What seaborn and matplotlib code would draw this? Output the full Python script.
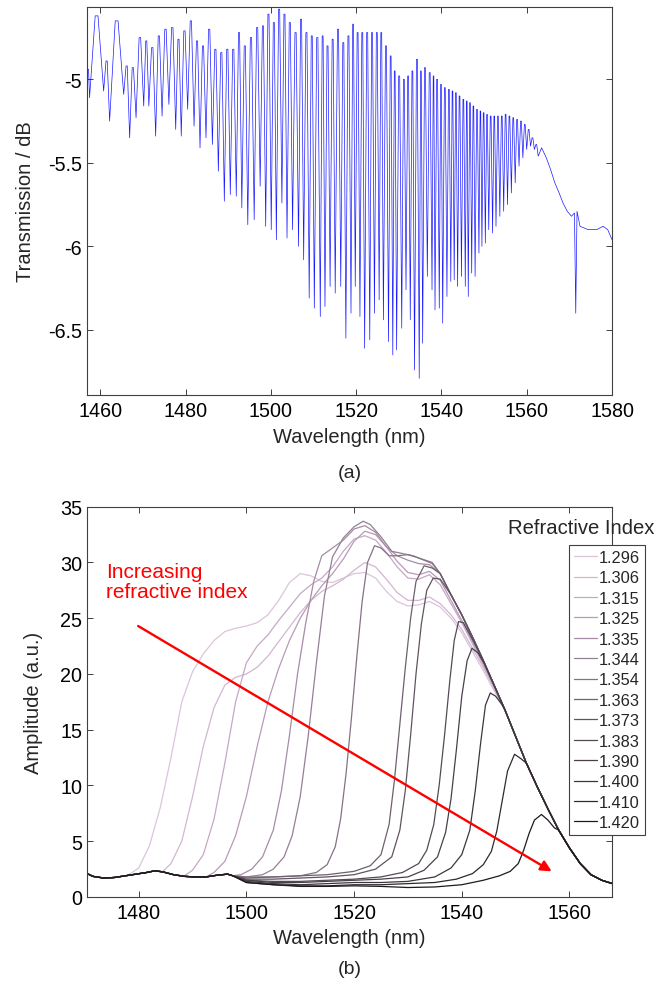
import numpy as np
import pandas as pd
import matplotlib
matplotlib.use("Agg")
import matplotlib.pyplot as plt
import seaborn as sns

# ---------- (a) transmission spectrum, read fringe by fringe ----------
start_nm, start_db = 1456.9, -4.94

dip_nm = [1457.5, 1460.8, 1462.2, 1465.5, 1466.9, 1468.4, 1470.2, 1471.4, 1473.0, 1474.5, 1476.1, 1477.7,
          1479.0, 1480.5, 1482.0, 1483.4, 1484.8, 1486.3, 1487.7, 1489.1, 1490.5, 1491.9, 1493.2, 1494.6,
          1496.1, 1497.5, 1498.8, 1500.1, 1501.3,
          1502.6, 1503.8, 1505.1, 1506.5, 1507.7, 1509.0, 1510.2, 1511.6, 1512.7, 1513.9, 1515.1, 1516.4,
          1517.6, 1518.8, 1519.8, 1520.9, 1522.0, 1523.2, 1524.3, 1525.4, 1526.4,
          1527.6, 1528.6, 1529.5, 1530.7, 1531.7, 1532.7, 1533.7, 1534.8, 1535.6, 1536.7, 1537.8, 1538.5,
          1539.5, 1540.3, 1541.3, 1542.2, 1543.0, 1543.8, 1544.7, 1545.6, 1546.3, 1547.1, 1547.9, 1548.8,
          1549.5, 1550.3, 1551.1,
          1552.0, 1552.8, 1553.7, 1554.6, 1555.5, 1556.4, 1557.3, 1558.2, 1559.1, 1560.0, 1560.9, 1561.8, 1562.7]
dip_db = [-5.11, -5.07, -5.25, -5.09, -5.35, -5.23, -5.16, -5.16, -5.34, -5.22, -5.15, -5.30,
          -5.34, -5.18, -5.28, -5.41, -5.35, -5.39, -5.55, -5.73, -5.69, -5.70, -5.77, -5.87,
          -5.84, -5.64, -5.88, -5.90, -5.96,
          -5.74, -5.95, -5.90, -6.00, -6.08, -6.31, -6.37, -6.42, -6.36, -6.24, -6.28, -6.24,
          -6.55, -6.40, -6.24, -6.42, -6.61, -6.56, -6.40, -6.32, -6.44,
          -6.57, -6.65, -6.62, -6.49, -6.26, -6.44, -6.74, -6.79, -6.58, -6.18, -6.26, -6.38,
          -6.37, -6.46, -6.30, -6.21, -6.20, -6.24, -6.18, -6.24, -6.30, -6.16, -6.18, -6.04,
          -6.00, -5.98, -5.90,
          -5.92, -5.88, -5.82, -5.79, -5.75, -5.68, -5.62, -5.52, -5.47, -5.42, -5.40, -5.42, -5.46]
# local maximum just before each dip
top_db = [-4.94, -4.62, -4.89, -4.65, -4.92, -4.93, -4.75, -4.77, -4.81, -4.74, -4.70, -4.69,
          -4.76, -4.71, -4.65, -4.77, -4.80, -4.70, -4.82, -4.84, -4.82, -4.82, -4.72, -4.80,
          -4.75, -4.69, -4.68, -4.61, -4.66,
          -4.58, -4.61, -4.66, -4.72, -4.64, -4.72, -4.74, -4.75, -4.74, -4.80, -4.76, -4.70,
          -4.78, -4.74, -4.67, -4.72, -4.72, -4.72, -4.72, -4.72, -4.72,
          -4.80, -4.86, -4.95, -4.98, -5.00, -4.98, -4.95, -4.88, -4.95, -4.93, -4.96, -4.98,
          -5.00, -5.03, -5.05, -5.06, -5.07, -5.08, -5.10, -5.12, -5.13, -5.14, -5.16, -5.18,
          -5.19, -5.20, -5.21,
          -5.22, -5.22, -5.22, -5.22, -5.21, -5.22, -5.23, -5.24, -5.25, -5.27, -5.30, -5.35, -5.39]
tail_nm = [1563.5, 1564.6, 1565.6, 1566.6, 1567.6, 1568.5, 1569.5, 1570.5, 1571.2, 1571.5, 1571.8,
           1572.5, 1574.4, 1576.4, 1577.9, 1579.0, 1580.0]
tail_db = [-5.41, -5.47, -5.54, -5.62, -5.68, -5.74, -5.79, -5.82, -5.80, -6.40, -5.79,
           -5.88, -5.90, -5.90, -5.88, -5.90, -5.96]

top_xticks = [1460, 1480, 1500, 1520, 1540, 1560, 1580]
top_yticks = [-6.5, -6, -5.5, -5]
top_yticklabels = ["-6.5", "-6", "-5.5", "-5"]

# ---------- (b) amplitude spectra for different refractive indices ----------
ri_labels = ["1.296", "1.306", "1.315", "1.325", "1.335", "1.344", "1.354",
             "1.363", "1.373", "1.383", "1.390", "1.400", "1.410", "1.420"]

# shared low-level part on the left, shared falling edge on the right
base_nm = [1470.0, 1471.5, 1473.5, 1475.5, 1477.5, 1479.5, 1481.5, 1483.0, 1484.5, 1486.5,
           1488.5, 1490.5, 1492.5, 1494.5, 1496.5]
base_amp = [2.2, 1.85, 1.7, 1.75, 1.9, 2.05, 2.2, 2.35, 2.25, 2.0, 1.85, 1.8, 1.8, 1.95, 2.05]
env_nm = [1536, 1538, 1540, 1542, 1544, 1546, 1548, 1550, 1552, 1554, 1556, 1558, 1560, 1562,
          1564, 1566, 1568]
env_amp = [29.0, 27.1, 25.3, 23.3, 21.2, 19.0, 16.8, 14.4, 12.0, 9.9, 7.9, 6.0, 4.4, 3.0,
           2.0, 1.5, 1.2]

nm_1296 = [1478.5, 1480, 1482, 1484, 1486, 1488, 1490, 1492, 1494, 1496, 1498, 1500, 1502, 1504,
           1506, 1508, 1510, 1512, 1514, 1516, 1518, 1520, 1522, 1524, 1526, 1528, 1530, 1532,
           1534, 1536, 1538, 1540, 1542, 1544, 1546]
amp_1296 = [2.1, 2.6, 4.6, 8.0, 12.5, 17.5, 20.2, 21.8, 23.0, 23.8, 24.1, 24.3, 24.6, 25.3,
            26.6, 28.2, 29.0, 28.8, 28.3, 28.2, 28.6, 29.0, 29.1, 28.6, 27.4, 26.5, 26.1, 26.2,
            26.5, 26.0, 25.0, 23.7, 22.0, 20.3, 18.5]
nm_1306 = [1484.5, 1486, 1488, 1490, 1492, 1494, 1496, 1498, 1500, 1502, 1504, 1506, 1508, 1510,
           1512, 1514, 1516, 1518, 1520, 1522, 1524, 1526, 1528, 1530, 1532, 1534, 1536, 1538,
           1540, 1542, 1544, 1546]
amp_1306 = [2.3, 3.0, 5.0, 9.0, 13.5, 17.0, 19.0, 19.7, 20.0, 20.6, 21.6, 22.9, 24.2, 25.5,
            26.6, 27.4, 27.9, 28.5, 29.3, 30.0, 29.6, 28.5, 27.3, 26.6, 26.6, 26.9, 26.3, 25.3,
            24.0, 22.3, 20.6, 18.7]
nm_1315 = [1488.5, 1490, 1492, 1494, 1496, 1498, 1500, 1502, 1504, 1506, 1508, 1510, 1512, 1514,
           1516, 1518, 1520, 1522, 1524, 1526, 1528, 1530, 1532, 1534, 1536, 1538, 1540, 1542,
           1544, 1546]
amp_1315 = [1.9, 2.4, 3.8, 7.0, 12.0, 17.5, 21.0, 22.5, 23.5, 24.8, 26.0, 27.2, 28.0, 28.6,
            29.6, 31.0, 32.1, 32.4, 32.0, 30.9, 29.6, 28.6, 28.5, 28.9, 28.0, 26.3, 24.6, 22.7,
            20.8, 18.8]
nm_1325 = [1492.5, 1494, 1496, 1498, 1500, 1502, 1504, 1506, 1508, 1510, 1512, 1514, 1516, 1518,
           1520, 1522, 1524, 1526, 1528, 1530, 1532, 1534, 1536, 1538, 1540, 1542, 1544, 1546]
amp_1325 = [1.8, 2.2, 3.2, 5.5, 9.0, 13.5, 17.5, 20.5, 23.0, 25.0, 26.6, 27.9, 29.0, 30.3,
            31.9, 32.8, 32.5, 31.4, 30.1, 29.1, 28.9, 29.2, 28.4, 26.6, 24.8, 22.9, 21.0, 18.9]
nm_1335 = [1497.5, 1499, 1501, 1503, 1505, 1506.5, 1508, 1509.5, 1511, 1512.5, 1514, 1516, 1518,
           1520, 1522, 1524, 1526, 1528, 1530, 1532, 1534]
amp_1335 = [1.9, 2.0, 2.5, 3.6, 6.0, 9.5, 14.5, 20.0, 24.5, 28.3, 30.6, 31.3, 32.0, 33.0, 33.3,
            32.7, 31.4, 30.6, 30.2, 29.9, 29.8]
nm_1344 = [1497.5, 1500, 1503, 1505, 1507, 1508.5, 1510, 1511.5, 1513, 1514.5, 1516, 1518, 1520,
           1521.7, 1523, 1525, 1527, 1529, 1531, 1533, 1534.5]
amp_1344 = [1.9, 1.8, 2.0, 2.5, 3.6, 5.5, 9.0, 14.5, 21.0, 27.0, 30.5, 32.2, 33.2, 33.7, 33.4,
            32.3, 31.0, 30.8, 30.6, 30.2, 29.9]
nm_1354 = [1497.5, 1500, 1505, 1510, 1513, 1515, 1516.5, 1517.5, 1518.5, 1519.5, 1520.5, 1521.5,
           1522.5, 1523.8, 1525, 1526.5, 1528, 1530, 1532, 1534.5]
amp_1354 = [1.9, 1.8, 1.8, 1.9, 2.2, 2.9, 4.5, 7.0, 11.0, 16.0, 21.5, 26.5, 30.0, 31.5, 31.3,
            30.6, 30.6, 30.7, 30.4, 30.0]
nm_1363 = [1497.5, 1500, 1505, 1510, 1515, 1520, 1523, 1525, 1526.5, 1527.5, 1528.5, 1529.5,
           1530.5, 1531.5, 1533, 1534.5]
amp_1363 = [1.9, 1.7, 1.8, 1.9, 2.0, 2.3, 2.8, 3.8, 6.5, 10.5, 15.5, 20.5, 25.0, 28.3, 29.7, 29.5]
nm_1373 = [1497.5, 1500, 1505, 1510, 1515, 1520, 1524, 1527, 1528.5, 1529.5, 1530.5, 1531.5,
           1532.5, 1533.5, 1534.7, 1536]
amp_1373 = [1.9, 1.6, 1.6, 1.7, 1.8, 2.0, 2.5, 3.6, 6.0, 9.5, 14.5, 20.0, 24.5, 27.5, 28.6, 28.5]
nm_1383 = [1497.5, 1500, 1505, 1510, 1515, 1520, 1525, 1529, 1532, 1533.5, 1534.8, 1535.8, 1536.8,
           1537.8, 1538.6, 1539.4, 1540.3, 1541.2, 1542.2]
amp_1383 = [1.9, 1.5, 1.4, 1.4, 1.5, 1.6, 1.8, 2.2, 3.0, 4.2, 6.5, 10.0, 14.5, 19.5, 23.0, 24.7,
            24.6, 23.8, 22.9]
nm_1390 = [1497.5, 1500, 1505, 1510, 1515, 1520, 1525, 1530, 1533, 1535.5, 1537, 1538, 1539,
           1540, 1541, 1541.9, 1543, 1544.2]
amp_1390 = [1.9, 1.5, 1.3, 1.3, 1.4, 1.5, 1.6, 1.8, 2.4, 3.6, 5.8, 8.8, 13.2, 18.0, 21.2, 22.3,
            21.9, 20.9]
nm_1400 = [1497.5, 1500, 1505, 1510, 1515, 1520, 1525, 1530, 1535, 1538, 1540, 1541.5, 1542.5,
           1543.5, 1544.4, 1545.3, 1546.3, 1547.4]
amp_1400 = [1.9, 1.4, 1.2, 1.1, 1.2, 1.3, 1.3, 1.4, 1.8, 2.6, 3.8, 6.0, 9.5, 13.8, 17.2, 18.3,
            18.0, 17.3]
nm_1410 = [1497.5, 1500, 1505, 1510, 1515, 1520, 1525, 1530, 1535, 1539, 1542, 1544, 1545.5,
           1546.5, 1547.5, 1548.5, 1549.8, 1551]
amp_1410 = [1.9, 1.3, 1.1, 1.0, 1.0, 1.1, 1.1, 1.2, 1.3, 1.6, 2.1, 2.9, 4.1, 5.9, 8.6, 11.3,
            12.8, 12.4]
nm_1420 = [1497.5, 1500, 1505, 1510, 1515, 1520, 1525, 1530, 1535, 1540, 1544, 1547, 1549,
           1550.5, 1551.5, 1552.5, 1553.5, 1554.8, 1556, 1557.2]
amp_1420 = [1.9, 1.3, 1.1, 0.95, 0.95, 1.0, 0.95, 0.85, 0.9, 1.1, 1.5, 1.9, 2.3, 3.0, 4.2, 5.7,
            6.9, 7.4, 6.9, 6.2]

curve_nm = [nm_1296, nm_1306, nm_1315, nm_1325, nm_1335, nm_1344, nm_1354,
            nm_1363, nm_1373, nm_1383, nm_1390, nm_1400, nm_1410, nm_1420]
curve_amp = [amp_1296, amp_1306, amp_1315, amp_1325, amp_1335, amp_1344, amp_1354,
             amp_1363, amp_1373, amp_1383, amp_1390, amp_1400, amp_1410, amp_1420]

ri_colors = ["#dcc4dc", "#d2b6d2", "#c6a8c6", "#b89ab8", "#a68ca6", "#948094", "#847284",
             "#6e606e", "#605460", "#544a54", "#4a404a", "#3e363e", "#302a30", "#1e1a1e"]

bot_xticks = [1480, 1500, 1520, 1540, 1560]
bot_yticks = [0, 5, 10, 15, 20, 25, 30, 35]

# ---------- style ----------
sns.set_style("ticks")
plt.rcParams["font.family"] = ["Liberation Sans", "DejaVu Sans"]
plt.rcParams["axes.unicode_minus"] = False

W, H = 660, 987
fig = plt.figure(figsize=(W / 100, H / 100), dpi=100)
ax1 = fig.add_axes([87 / W, 1 - 396 / H, 525 / W, 388 / H])
ax2 = fig.add_axes([87 / W, 1 - 898 / H, 525 / W, 390.3 / H])

# build the trace of panel (a): top of the fringe, then its narrow dip
trace_nm, trace_db = [start_nm], [start_db]
prev = start_nm
for d_nm, d_db, t_db in zip(dip_nm, dip_db, top_db):
    gap = d_nm - prev
    trace_nm += [prev + 0.4 * gap, d_nm - 0.4 * gap, d_nm]
    trace_db += [t_db, t_db, d_db]
    prev = d_nm
trace_nm += tail_nm
trace_db += tail_db

sns.lineplot(x=trace_nm, y=trace_db, ax=ax1, color="#1a1aff", lw=0.5,
             sort=False, estimator=None)

# long table for panel (b)
frames = []
for lab, nm, amp in zip(ri_labels, curve_nm, curve_amp):
    x = [b for b in base_nm if b < nm[0]] + nm + [e for e in env_nm if e > nm[-1]]
    y = [a for b, a in zip(base_nm, base_amp) if b < nm[0]] + amp + \
        [a for e, a in zip(env_nm, env_amp) if e > nm[-1]]
    frames.append(pd.DataFrame({"wl": x, "amp": y, "ri": lab}))
df = pd.concat(frames, ignore_index=True)

sns.lineplot(data=df, x="wl", y="amp", hue="ri", hue_order=ri_labels, palette=ri_colors,
             estimator=None, sort=False, lw=0.9, legend=False, ax=ax2)

# axes cosmetics (matlab look)
for ax in (ax1, ax2):
    for sp in ax.spines.values():
        sp.set_visible(True)
        sp.set_color("#404040")
        sp.set_linewidth(0.8)
    ax.tick_params(direction="in", top=True, right=True, length=4, width=0.7,
                   color="#404040", labelsize=14.2, labelcolor="black")
    ax.tick_params(axis="x", pad=4)
    ax.tick_params(axis="y", pad=3.5)

ax1.set_xlim(1456.9, 1580)
ax1.set_ylim(-6.89, -4.567)
ax1.set_xticks(top_xticks)
ax1.set_yticks(top_yticks)
ax1.set_yticklabels(top_yticklabels)
ax1.set_xlabel("Wavelength (nm)", fontsize=14.5)
ax1.set_ylabel("Transmission / dB", fontsize=14.5)
ax1.xaxis.set_label_coords(0.5, -0.106)
ax1.yaxis.set_label_coords(-0.118, 0.5)

ax2.set_xlim(1470.4, 1567.9)
ax2.set_ylim(0, 35)
ax2.set_xticks(bot_xticks)
ax2.set_yticks(bot_yticks)
ax2.set_xlabel("Wavelength (nm)", fontsize=14.5)
ax2.set_ylabel("Amplitude (a.u.)", fontsize=14.5)
ax2.xaxis.set_label_coords(0.5, -0.103)
ax2.yaxis.set_label_coords(-0.102, 0.5)
for ax in (ax1, ax2):
    ax.xaxis.label.set_verticalalignment("center")
    ax.yaxis.label.set_verticalalignment("center")

leg = ax2.legend(ax2.get_lines()[:len(ri_labels)], ri_labels, loc="upper right",
                 bbox_to_anchor=(645 / W, 1 - 546 / H), bbox_transform=fig.transFigure,
                 fontsize=11.8, frameon=True, fancybox=False, edgecolor="#404040",
                 framealpha=1, borderpad=0.3, labelspacing=0.33, handlelength=1.4,
                 handletextpad=0.15, borderaxespad=0)
leg.get_frame().set_linewidth(0.8)
fig.text(508 / W, 1 - 529 / H, "Refractive Index", fontsize=14.6, ha="left", va="center")

ax2.text(1473.9, 28.3, "Increasing\nrefractive index", color="red", fontsize=15,
         ha="left", va="center", linespacing=1.08)
ax2.annotate("", xy=(1556.7, 2.3), xytext=(1479.9, 24.3),
             arrowprops=dict(arrowstyle="-|>", color="red", lw=1.7, mutation_scale=16,
                             shrinkA=0, shrinkB=0))

fig.text(350 / W, 1 - 474 / H, "(a)", fontsize=14, ha="center", va="center")
fig.text(350 / W, 1 - 970 / H, "(b)", fontsize=14, ha="center", va="center")

fig.savefig("out.png", dpi=100)
